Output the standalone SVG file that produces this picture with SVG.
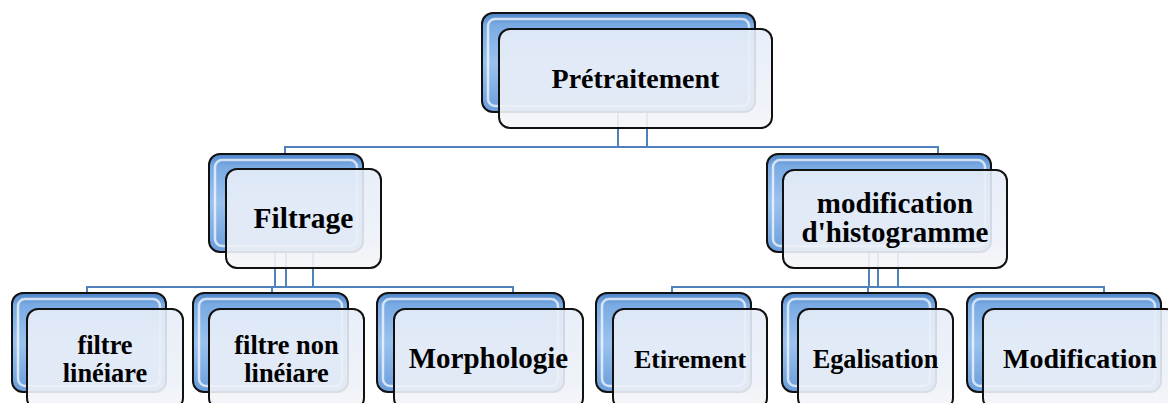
<svg xmlns="http://www.w3.org/2000/svg" width="1168" height="403" viewBox="0 0 1168 403">
<defs>
<linearGradient id="gBack" x1="0" y1="0" x2="0" y2="1">
<stop offset="0" stop-color="#4d84c8"/>
<stop offset="0.12" stop-color="#79aae3"/>
<stop offset="0.5" stop-color="#9bc2ee"/>
<stop offset="1" stop-color="#6a9ddb"/>
</linearGradient>
<linearGradient id="gFront" x1="0" y1="0" x2="0" y2="1">
<stop offset="0" stop-color="#e6edf8"/>
<stop offset="0.75" stop-color="#edf1f8"/>
<stop offset="1" stop-color="#f6f6f8"/>
</linearGradient>
<style>
.back{fill:url(#gBack);stroke:#111;stroke-width:2}
.hl{fill:none;stroke:#ffffff;stroke-opacity:0.7;stroke-width:2.5}
.front{fill:url(#gFront);fill-opacity:0.9;stroke:#111;stroke-width:2}
.fhl{fill:none;stroke:#ffffff;stroke-opacity:0.8;stroke-width:2}
.conn{fill:none;stroke:#4f81bd;stroke-width:2}
text{font-family:"Liberation Serif","Times New Roman",serif;font-weight:bold;fill:#000;text-anchor:middle}
</style>
</defs>
<g id="connectors">
<path class="conn" d="M618,112 V147 M647,112 V147 M285,155 V147 H938 V155"/>
<path class="conn" d="M275,252 V287 M286,252 V287 M313,252 V287 M87,293 V287 H513 V293 M272,287 V293"/>
<path class="conn" d="M869,252 V287 M878,252 V287 M898,252 V287 M672,293 V287 H1104 V293 M868,287 V293"/>
</g>
<g id="node-pretraitement">
<rect class="back" x="482" y="13" width="273" height="99" rx="11"/>
<rect class="hl" x="488" y="19" width="261" height="87" rx="7"/>
<rect class="front" x="499" y="29" width="273" height="99" rx="11"/>
<text x="635.5" y="88" font-size="28">Prétraitement</text>
</g>
<g id="node-filtrage">
<rect class="back" x="209" y="154" width="154" height="98" rx="11"/>
<rect class="hl" x="215" y="160" width="142" height="86" rx="7"/>
<rect class="front" x="226" y="169" width="155" height="99" rx="11"/>
<text x="303.5" y="228" font-size="29.5">Filtrage</text>
</g>
<g id="node-histogramme">
<rect class="back" x="767" y="154" width="224" height="98" rx="11"/>
<rect class="hl" x="773" y="160" width="212" height="86" rx="7"/>
<rect class="front" x="783" y="170" width="224" height="98" rx="11"/>
<text x="895" y="213" font-size="29">modification</text>
<text x="895" y="242" font-size="29">d'histogramme</text>
</g>
<g id="node-filtre-lineaire">
<rect class="back" x="12" y="293" width="154" height="99" rx="11"/>
<rect class="hl" x="18" y="299" width="142" height="87" rx="7"/>
<rect class="front" x="27" y="309" width="156" height="100" rx="11"/>
<text x="105" y="354" font-size="26.4">filtre</text>
<text x="105" y="382" font-size="26.4">linéiare</text>
</g>
<g id="node-filtre-non-lineaire">
<rect class="back" x="193" y="293" width="155" height="99" rx="11"/>
<rect class="hl" x="199" y="299" width="143" height="87" rx="7"/>
<rect class="front" x="209" y="309" width="155" height="100" rx="11"/>
<text x="286.5" y="354" font-size="26.4">filtre non</text>
<text x="286.5" y="382" font-size="26.4">linéiare</text>
</g>
<g id="node-morphologie">
<rect class="back" x="377" y="293" width="187" height="99" rx="11"/>
<rect class="hl" x="383" y="299" width="175" height="87" rx="7"/>
<rect class="front" x="394" y="309" width="189" height="100" rx="11"/>
<text x="488.5" y="368" font-size="29">Morphologie</text>
</g>
<g id="node-etirement">
<rect class="back" x="596" y="293" width="155" height="99" rx="11"/>
<rect class="hl" x="602" y="299" width="143" height="87" rx="7"/>
<rect class="front" x="613" y="309" width="154" height="100" rx="11"/>
<text x="690" y="368" font-size="26">Etirement</text>
</g>
<g id="node-egalisation">
<rect class="back" x="782" y="293" width="154" height="99" rx="11"/>
<rect class="hl" x="788" y="299" width="142" height="87" rx="7"/>
<rect class="front" x="798" y="309" width="155" height="100" rx="11"/>
<text x="875.5" y="368" font-size="26.3">Egalisation</text>
</g>
<g id="node-modification">
<rect class="back" x="967" y="293" width="194" height="99" rx="11"/>
<rect class="hl" x="973" y="299" width="182" height="87" rx="7"/>
<rect class="front" x="983" y="309" width="194" height="100" rx="11"/>
<text x="1080" y="368" font-size="28">Modification</text>
</g>
</svg>
